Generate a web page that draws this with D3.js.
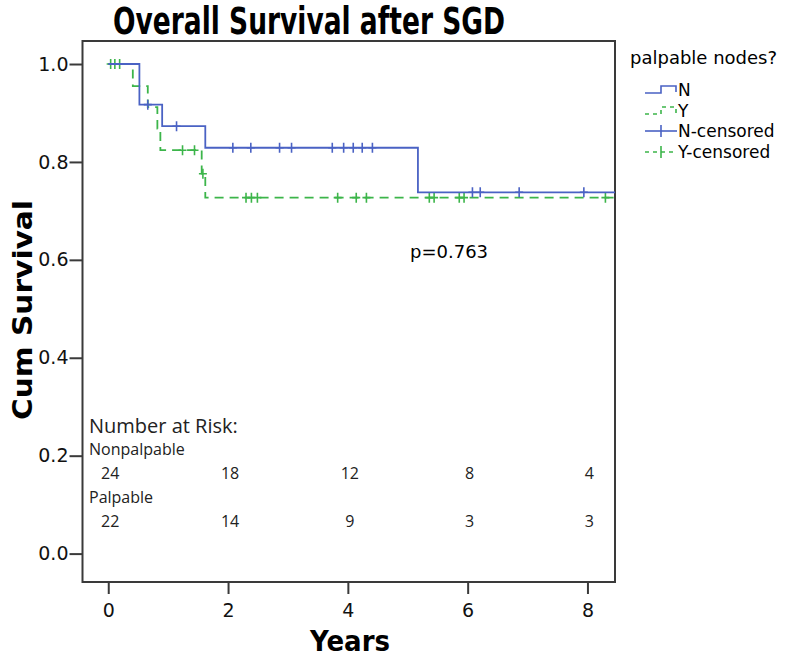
<!DOCTYPE html>
<html>
<head>
<meta charset="utf-8">
<script src="https://cdn.jsdelivr.net/npm/d3@7"></script>
<style>
  body { margin: 0; background: #fff; }
  svg { display: block; }
</style>
</head>
<body>
<script>
// Kaplan-Meier steps
var nStepTimes = [0, 0.52, 0.9, 1.62, 5.17];
var nStepSurv = [1.0, 0.917, 0.873, 0.829, 0.738];
var nCensored = [0.66, 1.14, 2.08, 2.38, 2.86, 3.06, 3.74, 3.93, 4.09, 4.24, 4.41,
    6.08, 6.21, 6.86, 7.94];

var yStepTimes = [0, 0.41, 0.66, 0.82, 0.87, 1.56, 1.62];
var yStepSurv = [1.0, 0.955, 0.912, 0.868, 0.824, 0.776, 0.727];
var yCensored = [0.04, 0.11, 0.19, 1.24, 1.44, 1.58, 2.3, 2.39, 2.49, 3.83, 4.14, 4.31,
    5.36, 5.44, 5.86, 5.94, 8.3];

// number at risk table
var riskTimes = [0, 2, 4, 6, 8];
var riskNonpalpable = [24, 18, 12, 8, 4];
var riskPalpable = [22, 14, 9, 3, 3];

var xTicks = [0, 2, 4, 6, 8];
var yTicks = [0.0, 0.2, 0.4, 0.6, 0.8, 1.0];
var legendLabels = ["N", "Y", "N-censored", "Y-censored"];

var blue = "#4a62c4",
    green = "#3cb54a",
    frameColor = "#3a3a3a";

var width = 800, height = 661;
var plot = { left: 82.5, right: 615, top: 41, bottom: 582 };

var svg = d3.select("body").append("svg")
    .attr("width", width)
    .attr("height", height);

var x = d3.scaleLinear().domain([-0.43, 8.46]).range([plot.left, plot.right]);
var y = d3.scaleLinear().domain([-0.058, 1.047]).range([plot.bottom, plot.top]);

// title
svg.append("text")
    .attr("x", 113).attr("y", 34)
    .attr("textLength", 392).attr("lengthAdjust", "spacingAndGlyphs")
    .style("font-family", "DejaVu Sans Condensed, DejaVu Sans")
    .style("font-weight", "bold")
    .style("font-size", "37px")
    .text("Overall Survival after SGD");

// axes
var xAxis = d3.axisBottom(x).tickValues(xTicks).tickFormat(d3.format("d"))
    .tickSize(12).tickSizeOuter(0);
var yAxis = d3.axisLeft(y).tickValues(yTicks).tickFormat(d3.format(".1f"))
    .tickSize(13).tickSizeOuter(0).tickPadding(1);

var gx = svg.append("g").attr("transform", "translate(0," + plot.bottom + ")").call(xAxis);
var gy = svg.append("g").attr("transform", "translate(" + plot.left + ",0)").call(yAxis);
[gx, gy].forEach(function (g) {
    g.select(".domain").remove();
    g.selectAll(".tick line").attr("stroke", frameColor).attr("stroke-width", 2);
    g.selectAll(".tick text")
        .attr("fill", "#111")
        .style("font-family", "DejaVu Sans")
        .style("font-size", "19px");
});
gx.selectAll(".tick text").attr("dy", "1.05em");

// frame
svg.append("rect")
    .attr("x", plot.left).attr("y", plot.top)
    .attr("width", plot.right - plot.left).attr("height", plot.bottom - plot.top)
    .attr("fill", "none").attr("stroke", frameColor).attr("stroke-width", 2);

// axis titles
svg.append("text")
    .attr("x", 310).attr("y", 651)
    .attr("textLength", 80).attr("lengthAdjust", "spacingAndGlyphs")
    .style("font-family", "DejaVu Sans")
    .style("font-weight", "bold")
    .style("font-size", "29px")
    .text("Years");

svg.append("text")
    .attr("transform", "translate(32,420) rotate(-90)")
    .attr("textLength", 220).attr("lengthAdjust", "spacingAndGlyphs")
    .style("font-family", "DejaVu Sans")
    .style("font-weight", "bold")
    .style("font-size", "27px")
    .text("Cum Survival");

// survival curves
function stepPoints(times, surv) {
    var pts = times.map(function (t, i) { return [t, surv[i]]; });
    pts.push([x.domain()[1], surv[surv.length - 1]]);
    return pts;
}
function survAt(times, surv, t) {
    var i = d3.bisectRight(times, t) - 1;
    return surv[Math.max(i, 0)];
}

var line = d3.line()
    .x(function (d) { return x(d[0]); })
    .y(function (d) { return y(d[1]); })
    .curve(d3.curveStepAfter);

var curves = [
    { times: yStepTimes, surv: yStepSurv, cens: yCensored, color: green, dash: "9,6" },
    { times: nStepTimes, surv: nStepSurv, cens: nCensored, color: blue, dash: null }
];

svg.append("clipPath").attr("id", "clip").append("rect")
    .attr("x", plot.left).attr("y", plot.top)
    .attr("width", plot.right - plot.left).attr("height", plot.bottom - plot.top);

var gCurves = svg.append("g").attr("clip-path", "url(#clip)");

curves.forEach(function (c) {
    gCurves.append("path")
        .datum(stepPoints(c.times, c.surv))
        .attr("d", line)
        .attr("fill", "none")
        .attr("stroke", c.color)
        .attr("stroke-width", 1.8)
        .attr("stroke-dasharray", c.dash);

    var marks = gCurves.selectAll(null)
        .data(c.cens)
        .enter().append("g")
        .attr("transform", function (t) {
            return "translate(" + x(t) + "," + y(survAt(c.times, c.surv, t)) + ")";
        });
    marks.append("line").attr("x1", 0).attr("x2", 0).attr("y1", -5).attr("y2", 5)
        .attr("stroke", c.color).attr("stroke-width", 1.6);
    marks.append("line").attr("x1", -4).attr("x2", 4).attr("y1", 0).attr("y2", 0)
        .attr("stroke", c.color).attr("stroke-width", 1.6);
});

// p value
svg.append("text")
    .attr("x", 410).attr("y", 258)
    .style("font-family", "DejaVu Sans")
    .style("font-size", "18px")
    .text("p=0.763");

// number at risk
var riskFont = "Open Sans, Noto Sans";
svg.append("text")
    .attr("x", 89).attr("y", 433)
    .style("font-family", riskFont).style("font-size", "20px").attr("fill", "#222")
    .text("Number at Risk:");

function riskRow(label, labelY, values, valuesY) {
    svg.append("text")
        .attr("x", 89).attr("y", labelY)
        .style("font-family", riskFont).style("font-size", "16px").attr("fill", "#222")
        .text(label);
    svg.selectAll(null)
        .data(values)
        .enter().append("text")
        .attr("x", function (d, i) { return x(riskTimes[i]) + 2; })
        .attr("y", valuesY)
        .attr("text-anchor", "middle")
        .style("font-family", riskFont).style("font-size", "16px").attr("fill", "#222")
        .text(function (d) { return d; });
}
riskRow("Nonpalpable", 455, riskNonpalpable, 479);
riskRow("Palpable", 503, riskPalpable, 527);

// legend
var legend = svg.append("g");
legend.append("text")
    .attr("x", 630).attr("y", 64)
    .style("font-family", "DejaVu Sans").style("font-size", "18px")
    .text("palpable nodes?");

var rowY = [90, 111, 131, 152];
legendLabels.forEach(function (label, i) {
    var cy = rowY[i];
    var color = i % 2 === 0 ? blue : green;
    var dash = i % 2 === 0 ? null : "4,4";
    if (i < 2) {
        legend.append("path")
            .attr("d", "M645," + (cy + 3) + "H661V" + (cy - 4) + "H676V" + (cy + 2))
            .attr("fill", "none").attr("stroke", color).attr("stroke-width", 1.6)
            .attr("stroke-dasharray", dash);
    } else {
        legend.append("line")
            .attr("x1", 645).attr("x2", 677).attr("y1", cy).attr("y2", cy)
            .attr("stroke", color).attr("stroke-width", 1.6)
            .attr("stroke-dasharray", dash);
        legend.append("line")
            .attr("x1", 661).attr("x2", 661).attr("y1", cy - 6).attr("y2", cy + 6)
            .attr("stroke", color).attr("stroke-width", 1.6);
    }
    legend.append("text")
        .attr("x", 678).attr("y", cy + 6)
        .style("font-family", "DejaVu Sans").style("font-size", "17px")
        .text(label);
});
</script>
</body>
</html>
